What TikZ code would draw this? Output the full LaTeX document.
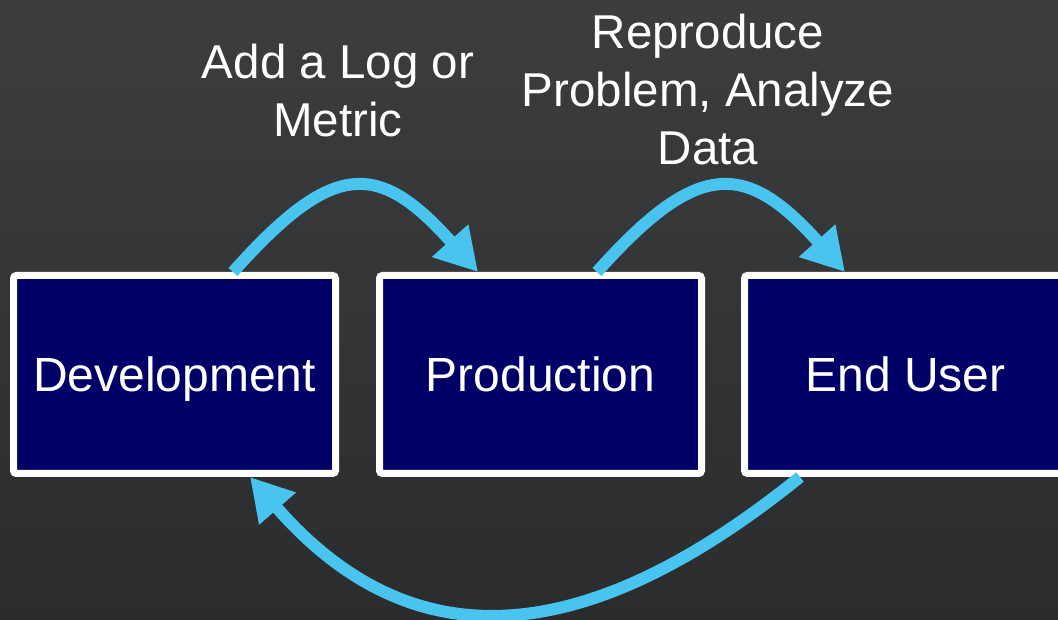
\documentclass[tikz,border=0pt]{standalone}
\usepackage{fontspec}
\setmainfont{Liberation Sans}
\usetikzlibrary{arrows.meta}
\definecolor{navy}{RGB}{0,0,102}
\definecolor{arrowblue}{RGB}{72,196,239}
\definecolor{bgtop}{RGB}{60,61,63}
\definecolor{bgbot}{RGB}{43,44,45}
\begin{document}
\begin{tikzpicture}[x=1pt,y=1pt,
  box/.style={draw=white, line width=7pt, fill=navy, rounded corners=3pt,
    minimum width=322pt, minimum height=198pt, text=white,
    text height=34pt, text depth=0pt,
    font=\fontsize{48}{56}\selectfont},
  lbl/.style={text=white, align=center, font=\fontsize{47.5}{58}\selectfont},
  flow/.style={draw=arrowblue, line width=12pt,
    -{Triangle[length=42pt,width=46pt]}}]
\useasboundingbox (0,0) rectangle (1058,619);
\shade[top color=bgtop, bottom color=bgbot] (0,0) rectangle (1058,619);
\clip (0,0) rectangle (1058,619);
\node[box] (dev) at (174.5,244.5) {Development};
\node[box] (prod) at (540.5,244.5) {Production};
\node[box] (user) at (905.5,244.5) {End User};
\node[lbl] (l1) at (338,528) {Add a Log or\\Metric};
\node[lbl] (l2) at (708,529) {Reproduce\\Problem, Analyze\\Data};
\draw[flow] ([xshift=58.5pt]dev.north) .. controls +(100,112) and +(-100,112) .. ([xshift=-62.5pt]prod.north);
\draw[flow] ([xshift=56.5pt]prod.north) .. controls +(100,112) and +(-100,112) .. ([xshift=-60.5pt]user.north);
\draw[flow] ([xshift=-105.5pt]user.south) .. controls +(-223,-180) and +(157,-180) .. ([xshift=75.5pt]dev.south);
\end{tikzpicture}
\end{document}
